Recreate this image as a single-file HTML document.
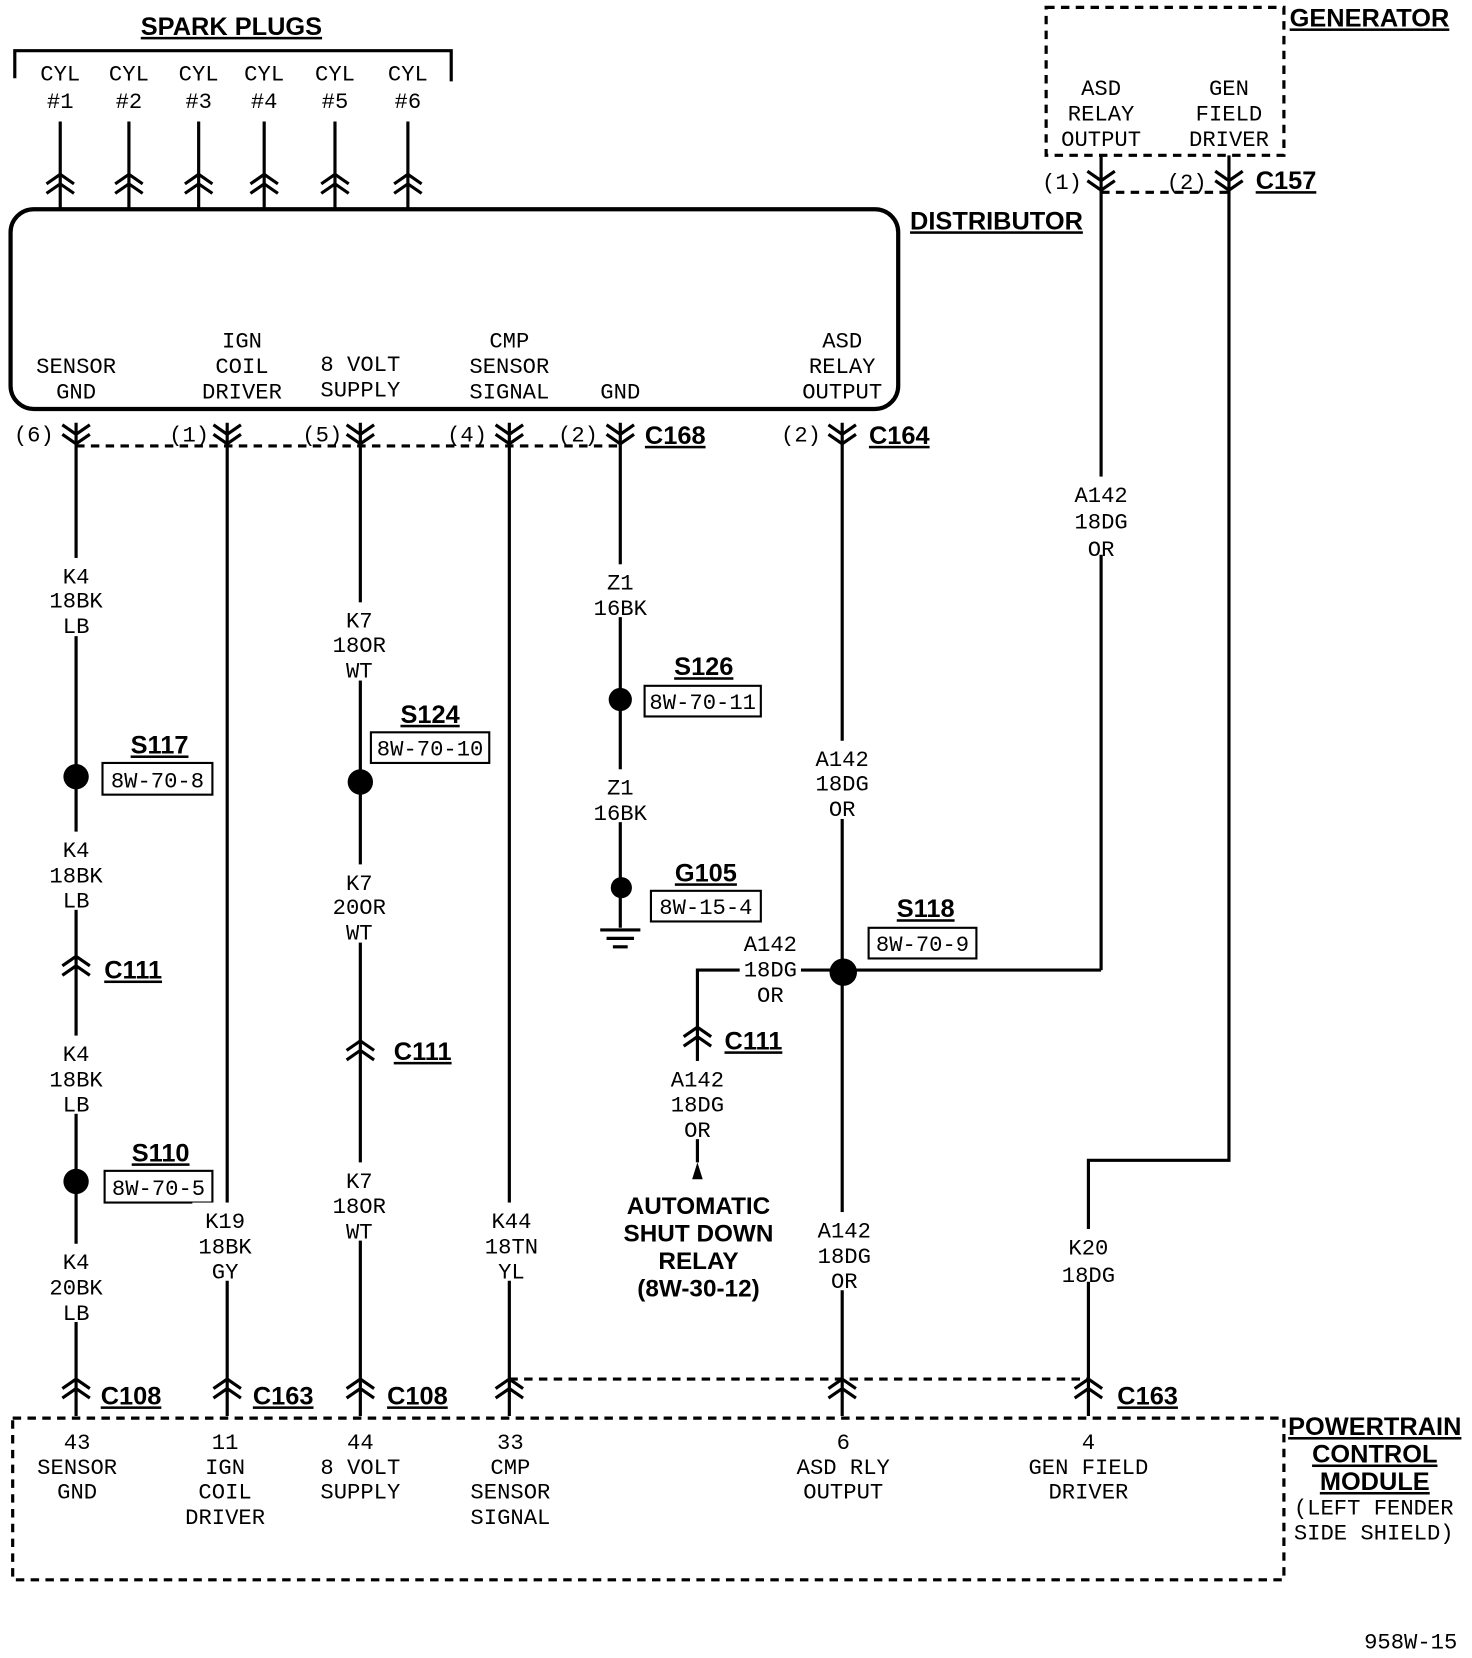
<!DOCTYPE html>
<html><head><meta charset="utf-8"><style>
html,body{margin:0;padding:0;background:#fff}
svg{display:block}
text{font-family:"Liberation Mono",monospace;font-size:21px;fill:#000;text-anchor:middle}
.b{font-family:"Liberation Sans",sans-serif;font-weight:bold;font-size:24px;text-decoration:underline}
.bn{font-family:"Liberation Sans",sans-serif;font-weight:bold;font-size:23px}
</style></head><body>
<svg width="1472" height="1658" viewBox="0 0 1393 1569" preserveAspectRatio="none" xmlns="http://www.w3.org/2000/svg">
<defs>
<g id="up" fill="none" stroke="#000" stroke-width="3"><polyline points="-13,9 0,0 13,9"/><polyline points="-13,18 0,9 13,18"/></g>
<g id="dn" fill="none" stroke="#000" stroke-width="3"><polyline points="-13,-9 0,0 13,-9"/><polyline points="-13,-18 0,-9 13,-18"/></g>
</defs>
<g stroke="#000" stroke-width="3" fill="none">
<polyline points="14,74 14,48 427,48 427,77"/>
<line x1="57" y1="115" x2="57" y2="198"/><line x1="122" y1="115" x2="122" y2="198"/><line x1="188" y1="115" x2="188" y2="198"/><line x1="250" y1="115" x2="250" y2="198"/><line x1="317" y1="115" x2="317" y2="198"/><line x1="386" y1="115" x2="386" y2="198"/>
<rect x="10" y="198" width="840" height="189" rx="22" stroke-width="4"/>
<rect x="990" y="7" width="225" height="140" stroke-dasharray="8,6"/>
<line x1="1042" y1="182" x2="1163" y2="182" stroke-dasharray="8,6"/>
<line x1="1042" y1="147" x2="1042" y2="918"/>
<line x1="1042" y1="918" x2="798" y2="918"/>
<polyline points="1163,147 1163,1098 1030,1098 1030,1340"/>
<line x1="72" y1="422" x2="587" y2="422" stroke-dasharray="8,6"/>
<line x1="72" y1="400" x2="72" y2="1340"/>
<line x1="215" y1="400" x2="215" y2="1340"/>
<line x1="341" y1="400" x2="341" y2="1340"/>
<line x1="482" y1="400" x2="482" y2="1340"/>
<line x1="587" y1="400" x2="587" y2="878"/>
<line x1="797" y1="400" x2="797" y2="1340"/>
<polyline points="798,918 660,918 660,1100"/>
<line x1="482" y1="1305" x2="1030" y2="1305" stroke-dasharray="8,6"/>
<rect x="12" y="1342" width="1203" height="153" stroke-dasharray="8,6"/>
<line x1="568" y1="880" x2="606" y2="880"/><line x1="574" y1="888" x2="600" y2="888"/><line x1="580" y1="896" x2="594" y2="896"/>
<rect x="97" y="722" width="104" height="30" stroke-width="2"/>
<rect x="99" y="1108" width="102" height="30" stroke-width="2"/>
<rect x="351" y="693" width="112" height="29" stroke-width="2"/>
<rect x="610" y="649" width="110" height="29" stroke-width="2"/>
<rect x="616" y="843" width="104" height="29" stroke-width="2"/>
<rect x="822" y="878" width="102" height="29" stroke-width="2"/>
</g>
<g fill="#fff">
<rect x="40" y="528" width="64" height="74"/><rect x="40" y="787" width="64" height="74"/><rect x="40" y="980" width="64" height="74"/><rect x="40" y="1177" width="64" height="74"/>
<rect x="182" y="1138" width="66" height="74"/><rect x="305" y="570" width="72" height="74"/><rect x="305" y="818" width="72" height="74"/><rect x="305" y="1100" width="72" height="74"/>
<rect x="450" y="1138" width="66" height="74"/><rect x="555" y="534" width="64" height="50"/><rect x="555" y="728" width="64" height="50"/>
<rect x="760" y="701" width="76" height="74"/><rect x="760" y="1147" width="76" height="74"/><rect x="1005" y="451" width="76" height="74"/>
<rect x="1000" y="1163" width="62" height="50"/><rect x="700" y="876" width="58" height="74"/><rect x="628" y="1004" width="64" height="74"/>
</g>
<g fill="#000">
<circle cx="72" cy="735" r="12"/><circle cx="72" cy="1118" r="12"/><circle cx="341" cy="740" r="12"/>
<circle cx="587" cy="662" r="11"/><circle cx="588" cy="840" r="10"/><circle cx="798" cy="920" r="13"/>
<polygon points="660,1100 655,1116 665,1116"/>
</g>
<use href="#up" x="57" y="165"/><use href="#up" x="122" y="165"/><use href="#up" x="188" y="165"/><use href="#up" x="250" y="165"/><use href="#up" x="317" y="165"/><use href="#up" x="386" y="165"/>
<use href="#dn" x="72" y="420"/><use href="#dn" x="215" y="420"/><use href="#dn" x="341" y="420"/><use href="#dn" x="482" y="420"/><use href="#dn" x="587" y="420"/><use href="#dn" x="797" y="420"/>
<use href="#dn" x="1042" y="180"/><use href="#dn" x="1163" y="180"/>
<use href="#up" x="72" y="905"/><use href="#up" x="341" y="985"/><use href="#up" x="660" y="972"/>
<use href="#up" x="72" y="1305"/><use href="#up" x="215" y="1305"/><use href="#up" x="341" y="1305"/><use href="#up" x="482" y="1305"/><use href="#up" x="797" y="1305"/><use href="#up" x="1030" y="1305"/>
<text class="b" x="219" y="33">SPARK PLUGS</text>
<text class="b" x="943" y="217">DISTRIBUTOR</text>
<text class="b" x="1296" y="25">GENERATOR</text>
<text class="b" x="1217" y="179">C157</text>
<text class="b" x="639" y="420">C168</text>
<text class="b" x="851" y="420">C164</text>
<text class="b" x="151" y="713">S117</text>
<text class="b" x="407" y="684">S124</text>
<text class="b" x="666" y="639">S126</text>
<text class="b" x="668" y="834">G105</text>
<text class="b" x="876" y="868">S118</text>
<text class="b" x="126" y="926">C111</text>
<text class="b" x="400" y="1003">C111</text>
<text class="b" x="713" y="993">C111</text>
<text class="b" x="152" y="1099">S110</text>
<text class="b" x="124" y="1329">C108</text>
<text class="b" x="268" y="1329">C163</text>
<text class="b" x="395" y="1329">C108</text>
<text class="b" x="1086" y="1329">C163</text>
<text class="b" x="1301" y="1358">POWERTRAIN</text>
<text class="b" x="1301" y="1384">CONTROL</text>
<text class="b" x="1301" y="1410">MODULE</text>
<text class="bn" x="661" y="1149">AUTOMATIC</text>
<text class="bn" x="661" y="1175">SHUT DOWN</text>
<text class="bn" x="661" y="1201">RELAY</text>
<text class="bn" x="661" y="1227">(8W-30-12)</text>
<g>
<text x="57" y="76">CYL</text><text x="57" y="102">#1</text>
<text x="122" y="76">CYL</text><text x="122" y="102">#2</text>
<text x="188" y="76">CYL</text><text x="188" y="102">#3</text>
<text x="250" y="76">CYL</text><text x="250" y="102">#4</text>
<text x="317" y="76">CYL</text><text x="317" y="102">#5</text>
<text x="386" y="76">CYL</text><text x="386" y="102">#6</text>
</g>
<text x="72" y="353">SENSOR</text><text x="72" y="377">GND</text>
<text x="229" y="329">IGN</text><text x="229" y="353">COIL</text><text x="229" y="377">DRIVER</text>
<text x="341" y="351">8 VOLT</text><text x="341" y="375">SUPPLY</text>
<text x="482" y="329">CMP</text><text x="482" y="353">SENSOR</text><text x="482" y="377">SIGNAL</text>
<text x="587" y="377">GND</text>
<text x="797" y="329">ASD</text><text x="797" y="353">RELAY</text><text x="797" y="377">OUTPUT</text>
<text x="1042" y="90">ASD</text><text x="1042" y="114">RELAY</text><text x="1042" y="138">OUTPUT</text>
<text x="1163" y="90">GEN</text><text x="1163" y="114">FIELD</text><text x="1163" y="138">DRIVER</text>
<text x="1005" y="179">(1)</text><text x="1123" y="179">(2)</text>
<text x="32" y="418">(6)</text><text x="179" y="418">(1)</text><text x="305" y="418">(5)</text><text x="442" y="418">(4)</text><text x="547" y="418">(2)</text><text x="758" y="418">(2)</text>
<text x="72" y="552">K4</text><text x="72" y="575">18BK</text><text x="72" y="599">LB</text>
<text x="72" y="811">K4</text><text x="72" y="835">18BK</text><text x="72" y="859">LB</text>
<text x="72" y="1004">K4</text><text x="72" y="1028">18BK</text><text x="72" y="1052">LB</text>
<text x="72" y="1201">K4</text><text x="72" y="1225">20BK</text><text x="72" y="1249">LB</text>
<text x="213" y="1162">K19</text><text x="213" y="1186">18BK</text><text x="213" y="1210">GY</text>
<text x="340" y="594">K7</text><text x="340" y="617">18OR</text><text x="340" y="641">WT</text>
<text x="340" y="842">K7</text><text x="340" y="865">20OR</text><text x="340" y="889">WT</text>
<text x="340" y="1124">K7</text><text x="340" y="1148">18OR</text><text x="340" y="1172">WT</text>
<text x="484" y="1162">K44</text><text x="484" y="1186">18TN</text><text x="484" y="1210">YL</text>
<text x="587" y="558">Z1</text><text x="587" y="582">16BK</text>
<text x="587" y="752">Z1</text><text x="587" y="776">16BK</text>
<text x="797" y="725">A142</text><text x="797" y="748">18DG</text><text x="797" y="772">OR</text>
<text x="799" y="1171">A142</text><text x="799" y="1195">18DG</text><text x="799" y="1219">OR</text>
<text x="1042" y="475">A142</text><text x="1042" y="500">18DG</text><text x="1042" y="526">OR</text>
<text x="1030" y="1187">K20</text><text x="1030" y="1213">18DG</text>
<text x="729" y="900">A142</text><text x="729" y="924">18DG</text><text x="729" y="948">OR</text>
<text x="660" y="1028">A142</text><text x="660" y="1052">18DG</text><text x="660" y="1076">OR</text>
<text x="149" y="745">8W-70-8</text>
<text x="150" y="1131">8W-70-5</text>
<text x="407" y="715">8W-70-10</text>
<text x="665" y="671">8W-70-11</text>
<text x="668" y="865">8W-15-4</text>
<text x="873" y="900">8W-70-9</text>
<text x="73" y="1371">43</text><text x="73" y="1395">SENSOR</text><text x="73" y="1418">GND</text>
<text x="213" y="1371">11</text><text x="213" y="1395">IGN</text><text x="213" y="1418">COIL</text><text x="213" y="1442">DRIVER</text>
<text x="341" y="1371">44</text><text x="341" y="1395">8 VOLT</text><text x="341" y="1418">SUPPLY</text>
<text x="483" y="1371">33</text><text x="483" y="1395">CMP</text><text x="483" y="1418">SENSOR</text><text x="483" y="1442">SIGNAL</text>
<text x="798" y="1371">6</text><text x="798" y="1395">ASD RLY</text><text x="798" y="1418">OUTPUT</text>
<text x="1030" y="1371">4</text><text x="1030" y="1395">GEN FIELD</text><text x="1030" y="1418">DRIVER</text>
<text x="1300" y="1433">(LEFT FENDER</text><text x="1300" y="1457">SIDE SHIELD)</text>
<text x="1335" y="1560">958W-15</text>
</svg>
</body></html>
